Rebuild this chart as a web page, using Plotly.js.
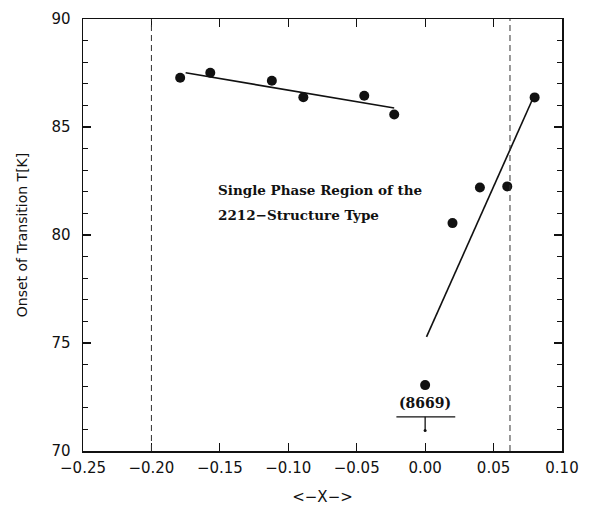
<!DOCTYPE html>
<html>
<head>
<meta charset="utf-8">
<script src="https://cdn.plot.ly/plotly-3.0.1.min.js"></script>
<style>html,body{margin:0;padding:0;background:#fff;}#chart{width:610px;height:510px;}</style>
</head>
<body>
<div id="chart"></div>
<script>
// Data
const leftX = [-0.179, -0.157, -0.112, -0.089, -0.0445, -0.0226];
const leftT = [87.28, 87.51, 87.14, 86.38, 86.45, 85.58];
const rightX = [0.00, 0.02, 0.04, 0.06, 0.08];
const rightT = [73.05, 80.55, 82.2, 82.25, 86.37];
const leftFitX = [-0.175, -0.0226];
const leftFitT = [87.51, 85.88];
const rightFitX = [0.001, 0.0783];
const rightFitT = [75.28, 86.26];
const boundaryX = [-0.20, 0.062];
const xTicks = [-0.25, -0.20, -0.15, -0.10, -0.05, 0.00, 0.05, 0.10];
const xTickText = ['\u22120.25', '\u22120.20', '\u22120.15', '\u22120.10', '\u22120.05', '0.00', '0.05', '0.10'];
const yTicks = [70, 75, 80, 85, 90];

const black = '#111';
const traces = [
  {x: leftX, y: leftT, mode: 'markers', type: 'scatter', marker: {color: black, size: 10}},
  {x: rightX, y: rightT, mode: 'markers', type: 'scatter', marker: {color: black, size: 10}},
  {x: leftFitX, y: leftFitT, mode: 'lines', type: 'scatter', line: {color: black, width: 1.6}},
  {x: rightFitX, y: rightFitT, mode: 'lines', type: 'scatter', line: {color: black, width: 1.6}},
  {x: [0], y: [70.95], mode: 'markers', type: 'scatter', marker: {color: black, size: 3}}
];

const shapes = boundaryX.map(v => ({
  type: 'line', xref: 'x', yref: 'y', x0: v, x1: v, y0: 70, y1: 90,
  line: {color: '#333', width: 1, dash: '6px,4px'}
}));
shapes.push({type: 'line', xref: 'x', yref: 'y', x0: -0.021, x1: 0.022, y0: 71.58, y1: 71.58, line: {color: black, width: 1.3}});
shapes.push({type: 'line', xref: 'x', yref: 'y', x0: 0, x1: 0, y0: 71.58, y1: 70.95, line: {color: black, width: 1.3}});

const serifFam = '"DejaVu Serif", serif';
const serif = {family: serifFam, size: 13.5, color: black, weight: 'bold'};
const sans = '"DejaVu Sans", sans-serif';
const layout = {
  width: 610, height: 510,
  margin: {l: 83, r: 48, t: 19, b: 59},
  paper_bgcolor: '#fff', plot_bgcolor: '#fff',
  showlegend: false,
  font: {family: sans, color: black},
  xaxis: {
    range: [-0.25, 0.10], tickmode: 'array', tickvals: xTicks, ticktext: xTickText,
    ticks: 'inside', ticklen: 8, tickwidth: 1.2, tickcolor: black,
    showline: true, linecolor: black, linewidth: 1.5, mirror: 'ticks',
    showgrid: false, zeroline: false, ticklabelstandoff: 2,
    tickfont: {family: sans, size: 15, color: black},
    title: {text: '<\u2212X\u2212>', font: {family: sans, size: 15, color: black}, standoff: 16}
  },
  yaxis: {
    range: [70, 90], tickmode: 'array', tickvals: yTicks,
    ticks: 'inside', ticklen: 8, tickwidth: 1.2, tickcolor: black,
    minor: {dtick: 1, ticks: 'inside', ticklen: 5, tickcolor: black, tickwidth: 1},
    showline: true, linecolor: black, linewidth: 1.5, mirror: 'ticks',
    showgrid: false, zeroline: false, ticklabelstandoff: 8,
    tickfont: {family: sans, size: 15, color: black},
    title: {text: 'Onset of Transition T[K]', font: {family: sans, size: 14, color: black}, standoff: 20}
  },
  shapes: shapes,
  annotations: [
    {x: -0.153, y: 82.08, xref: 'x', yref: 'y', xanchor: 'left', yanchor: 'middle', showarrow: false,
     text: 'Single Phase Region of the', font: serif},
    {x: -0.153, y: 80.93, xref: 'x', yref: 'y', xanchor: 'left', yanchor: 'middle', showarrow: false,
     text: '2212\u2212Structure Type', font: serif},
    {x: 0.0, y: 72.2, xref: 'x', yref: 'y', xanchor: 'center', yanchor: 'middle', showarrow: false,
     text: '(8669)', font: {family: serifFam, size: 14, color: black, weight: 'bold'}}
  ]
};
Plotly.newPlot('chart', traces, layout, {displayModeBar: false, staticPlot: true});
</script>
</body>
</html>
